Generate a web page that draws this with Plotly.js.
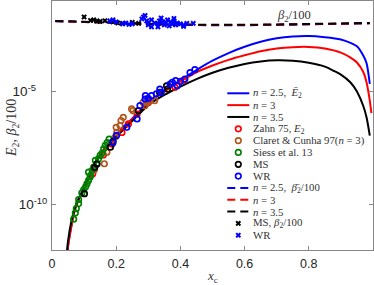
<!DOCTYPE html>
<html><head><meta charset="utf-8">
<script src="https://cdn.plot.ly/plotly-3.0.1.min.js"></script>
<style>html,body{margin:0;padding:0;background:#fff}#c{width:374px;height:285px}</style>
</head><body><div id="c"></div>
<script>
// ---- E2 model curves (n = 2.5, 3, 3.5) ----
const blueX = [0.047,0.05,0.06,0.07,0.08,0.10,0.12,0.14,0.17,0.20,0.25,0.30,0.35,0.40,0.45,0.50,0.55,0.60,0.65,0.70,0.75,0.80,0.85,0.90,0.93,0.95,0.97,0.98,0.99];
const blueE2 = [5.0e-13,1.58e-12,1.12e-11,5.62e-11,1.41e-10,5.62e-10,2.5e-9,1e-8,4.0e-8,1.26e-7,6.3e-7,3.3e-6,1.1e-5,3.16e-5,8.9e-5,2.3e-4,5.01e-4,9.5e-4,1.58e-3,2.24e-3,2.69e-3,2.82e-3,2.51e-3,2.0e-3,1.41e-3,1e-3,3.80e-4,1.78e-4,2.2e-5];
const redX = [0.047,0.05,0.06,0.07,0.08,0.10,0.12,0.14,0.17,0.20,0.25,0.30,0.35,0.40,0.45,0.50,0.55,0.60,0.65,0.70,0.75,0.80,0.85,0.90,0.93,0.95,0.97,0.98,0.99,0.995];
const redE2 = [4.5e-13,1.4e-12,1.0e-11,5.0e-11,1.3e-10,5.3e-10,2.4e-9,9.5e-9,3.8e-8,1.2e-7,6.0e-7,3.2e-6,1.0e-5,2.82e-5,7.1e-5,1.41e-4,2.5e-4,3.98e-4,6.03e-4,7.94e-4,9.12e-4,9.33e-4,7.94e-4,5.25e-4,3.16e-4,1.91e-4,7.08e-5,2.51e-5,3.98e-6,1.12e-6];
const blackX = [0.045,0.05,0.06,0.07,0.08,0.10,0.12,0.14,0.17,0.20,0.25,0.30,0.35,0.40,0.45,0.50,0.55,0.60,0.65,0.70,0.75,0.80,0.85,0.88,0.90,0.93,0.95,0.97,0.98,0.99];
const blackE2 = [5.0e-13,2.51e-12,1.78e-11,6.3e-11,1.5e-10,5.5e-10,2.3e-9,8.9e-9,3.16e-8,1e-7,5.0e-7,2.51e-6,7.08e-6,1.66e-5,3.55e-5,6.76e-5,1.12e-4,1.66e-4,2.14e-4,2.40e-4,2.29e-4,1.86e-4,1.26e-4,7.94e-5,5.62e-5,2.51e-5,1e-5,2.24e-6,7.08e-7,1.12e-7];

// ---- observed E2 ----
const zahnX = [0.127,0.16,0.187,0.218,0.238,0.265,0.30,0.383,0.41];
const zahnE2 = [2.34e-9,1.58e-8,4.79e-8,1.55e-7,3.72e-7,1e-6,3.31e-6,1.55e-5,3.16e-5];
const claretX = [0.132,0.163,0.171,0.196,0.20,0.202,0.212,0.222,0.215,0.248,0.252,0.284,0.29,0.305,0.32,0.295];
const claretE2 = [3.55e-9,6.46e-9,2.09e-8,9.55e-8,2.63e-7,1.58e-7,3.16e-7,7.24e-7,5.25e-7,1.70e-6,1.45e-6,3.31e-6,2.40e-6,3.98e-6,3.98e-6,3.16e-6];
const siessX = [0.0675,0.0727,0.0758,0.083,0.083,0.093,0.099,0.109,0.114,0.119,0.114,0.125,0.13,0.14,0.135,0.145,0.15,0.156,0.161,0.166,0.172,0.178,0.12,0.105];
const siessE2 = [2.29e-11,4.37e-11,6.76e-11,1.12e-10,1.70e-10,3.31e-10,4.68e-10,8.51e-10,1.20e-9,1.66e-9,2.75e-9,3.31e-9,4.57e-9,6.46e-9,9.12e-9,1.07e-8,1.51e-8,1.91e-8,2.95e-8,4.17e-8,5.62e-8,7.94e-8,2.0e-9,6.31e-10];
const msX = [0.101,0.133,0.14,0.182,0.19,0.269,0.36,0.357,0.335];
const msE2 = [3.09e-10,4.37e-9,6.31e-9,3.47e-8,6.31e-8,1.45e-6,1.29e-5,1.78e-5,9.33e-6];
const wrX = [0.19,0.201,0.233,0.265,0.274,0.29,0.291,0.30,0.31,0.325,0.336,0.34,0.368,0.375,0.385,0.39,0.40,0.414,0.43,0.445];
const wrE2 = [5.62e-8,1.15e-7,2.63e-7,6.17e-7,2.40e-6,4.68e-6,6.61e-6,5.01e-6,6.61e-6,7.94e-6,1.29e-5,9.33e-6,2.14e-5,2.57e-5,3.02e-5,1.82e-5,2.82e-5,3.55e-5,6.92e-5,9.33e-5];

// ---- beta2/100 model curves ----
const betaX = [0.01,0.1,0.2,0.3,0.4,0.5,0.6,0.7,0.8,0.9,0.99];
const beta25 = [0.0128,0.0117,0.0107,0.0095,0.0088,0.0085,0.0085,0.0088,0.0093,0.0098,0.0103];
const beta3 = [0.0130,0.0119,0.0109,0.0097,0.0090,0.0087,0.0087,0.0090,0.0095,0.0100,0.0105];
const beta35 = [0.0132,0.0121,0.0111,0.0099,0.0092,0.0089,0.0089,0.0092,0.0097,0.0102,0.0107];

// ---- observed beta2/100 ----
const msBetaX = [0.10,0.12,0.13,0.14,0.15,0.165,0.19,0.205,0.22,0.25,0.27,0.30];
const msBeta = [0.0197,0.0138,0.0146,0.0132,0.0125,0.0134,0.0119,0.0107,0.0102,0.0113,0.0102,0.0107];
const wrBetaX = [0.18,0.19,0.20,0.22,0.23,0.24,0.25,0.28,0.285,0.29,0.295,0.30,0.31,0.31,0.32,0.33,0.335,0.34,0.345,0.35,0.355,0.36,0.365,0.37,0.375,0.38,0.385,0.39,0.40,0.41,0.42,0.44,0.41,0.38,0.33];
const wrBeta = [0.0132,0.0146,0.0119,0.0097,0.0107,0.0092,0.0097,0.0161,0.0197,0.0230,0.0132,0.0088,0.0072,0.0146,0.0107,0.0097,0.0132,0.0178,0.0119,0.0088,0.0107,0.0146,0.0079,0.0119,0.0097,0.0132,0.0088,0.0107,0.0097,0.0088,0.0102,0.0102,0.0075,0.0169,0.0072];

// ---- tick labels / titles / legend labels ----
const xTicks = [0,0.2,0.4,0.6,0.8,1];
const xTickText = ['0','0.2','0.4','0.6','0.8','1'];
const yTicks = [1e-10,1e-5];
const yTickText = ['10<sup>-10</sup>','10<sup>-5</sup>\u00a0\u00a0\u00a0'];
const xTitle = '<i>x</i><sub>c</sub>';
const yTitle = '<i>E</i><sub>2</sub>, <i>β</i><sub>2</sub>/100';
const legendLabels = ['<i>n</i> = 2.5,  <i>Ē</i><sub>2</sub>','<i>n</i> = 3','<i>n</i> = 3.5','Zahn 75, <i>E</i><sub>2</sub>','Claret & Cunha 97(<i>n</i> = 3)','Siess et al. 13','MS','WR','<i>n</i> = 2.5,  <i>β̄</i><sub>2</sub>/100','<i>n</i> = 3','<i>n</i> = 3.5','MS, <i>β</i><sub>2</sub>/100','WR'];

const BLUE='#0000ff', RED='#ff0000', BLACK='#000000', BROWN='#b0561c', GREEN='#008000';
const SERIF='"Liberation Serif","DejaVu Serif",serif';
const SANS='"Liberation Sans",Arial,sans-serif';

function line(x,y,c,dash){return {type:'scatter',mode:'lines',x:x,y:y,line:{color:c,width:2,dash:dash||'solid',shape:'spline',smoothing:0.7},hoverinfo:'skip',showlegend:false};}
function circ(x,y,c){return {type:'scatter',mode:'markers',x:x,y:y,marker:{symbol:'circle-open',size:5.5,color:c,line:{width:1.7,color:c}},hoverinfo:'skip',showlegend:false};}
function cross(x,y,c){return {type:'scatter',mode:'markers',x:x,y:y,marker:{symbol:'x',size:5,color:c,line:{width:0}},hoverinfo:'skip',showlegend:false};}

const DASH='8px,5px';
const traces = [
  line(blueX,blueE2,BLUE), line(redX,redE2,RED), line(blackX,blackE2,BLACK),
  circ(zahnX,zahnE2,RED), circ(claretX,claretE2,BROWN), circ(siessX,siessE2,GREEN), circ(msX,msE2,BLACK), circ(wrX,wrE2,BLUE),
  line(betaX,beta25,BLUE,DASH), line(betaX,beta3,RED,DASH), line(betaX,beta35,BLACK,DASH),
  cross(msBetaX,msBeta,BLACK), cross(wrBetaX,wrBeta,BLUE)
];

// ---- manual legend (layout geometry in pixels of the 374x285 page) ----
const PL=52, PW=321, PT=1, PH=249;
const px2x = p => (p-PL)/PW, py2y = p => 1-(p-PT)/PH;
const rowTop=93.3, rowGap=11.83;
const glyph = [
  {k:'l',c:BLUE},{k:'l',c:RED},{k:'l',c:BLACK},
  {k:'o',c:RED},{k:'o',c:BROWN},{k:'o',c:GREEN},{k:'o',c:BLACK},{k:'o',c:BLUE},
  {k:'d',c:BLUE},{k:'d',c:RED},{k:'d',c:BLACK},
  {k:'x',c:BLACK},{k:'x',c:BLUE}
];
const annotations = [];
glyph.forEach((g,i)=>{
  const yy = py2y(rowTop+rowGap*i);
  if(g.k==='l'||g.k==='d'){
    traces.push({type:'scatter',mode:'lines',xaxis:'x2',yaxis:'y2',x:[px2x(227.3),px2x(249.3)],y:[yy,yy],line:{color:g.c,width:2,dash:g.k==='d'?DASH:'solid'},hoverinfo:'skip',showlegend:false});
  } else if(g.k==='o'){
    traces.push({type:'scatter',mode:'markers',xaxis:'x2',yaxis:'y2',x:[px2x(238.3)],y:[yy],marker:{symbol:'circle-open',size:5.5,color:g.c,line:{width:1.7,color:g.c}},hoverinfo:'skip',showlegend:false});
  } else {
    traces.push({type:'scatter',mode:'markers',xaxis:'x2',yaxis:'y2',x:[px2x(238.3)],y:[yy],marker:{symbol:'x',size:5,color:g.c,line:{width:0}},hoverinfo:'skip',showlegend:false});
  }
  annotations.push({xref:'paper',yref:'paper',x:px2x(250.5),y:yy,xanchor:'left',yanchor:'middle',showarrow:false,text:legendLabels[i],font:{family:SERIF,size:10.8,color:'#333'}});
});
annotations.push({xref:'paper',yref:'paper',x:px2x(293.5),y:py2y(15.5),xanchor:'center',yanchor:'middle',showarrow:false,text:'<i>β</i><sub>2</sub>/100',font:{family:SERIF,size:12.5,color:'#333'}});
// axis titles
annotations.push({xref:'paper',yref:'paper',x:px2x(212.5),y:py2y(276.5),xanchor:'center',yanchor:'middle',showarrow:false,text:xTitle,font:{family:SERIF,size:13,color:'#333'}});
annotations.push({xref:'paper',yref:'paper',x:px2x(12),y:py2y(128),xanchor:'center',yanchor:'middle',textangle:-90,showarrow:false,text:yTitle,font:{family:SERIF,size:14,color:'#333'}});

const axisCommon = {showgrid:false,zeroline:false,showline:true,linecolor:'#888',linewidth:1,mirror:'ticks',ticks:'inside',ticklen:4,tickcolor:'#888'};
const layout = {
  width:374,height:285,margin:{l:PL,r:1,t:PT,b:35},paper_bgcolor:'#fff',plot_bgcolor:'#fff',showlegend:false,
  xaxis:Object.assign({},axisCommon,{range:[0,1],tickvals:xTicks,ticktext:xTickText,ticklabelstandoff:2,
    tickfont:{family:SANS,size:12.5,color:'#262626'}}),
  yaxis:Object.assign({},axisCommon,{type:'log',range:[-12,-1],tickvals:yTicks,ticktext:yTickText,ticklabelstandoff:1,
    tickfont:{family:SANS,size:13.5,color:'#262626'}}),
  xaxis2:{overlaying:'x',range:[0,1],visible:false,fixedrange:true},
  yaxis2:{overlaying:'y',range:[0,1],visible:false,fixedrange:true},
  annotations:annotations
};
Plotly.newPlot('c',traces,layout,{staticPlot:true,displayModeBar:false});
</script></body></html>
